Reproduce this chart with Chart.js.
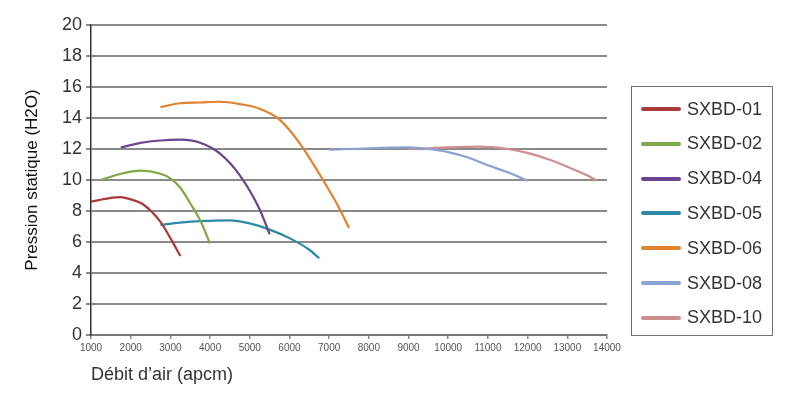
<!DOCTYPE html>
<html>
<head>
<meta charset="utf-8">
<script src="https://cdn.jsdelivr.net/npm/chart.js@4.4.1/dist/chart.umd.min.js"></script>
<style>
  body { margin: 0; background: #fff; }
  #wrap { position: relative; width: 800px; height: 400px; }
  #legende {
    position: absolute; left: 631px; top: 86px; width: 142px; height: 250px;
    border: 1.5px solid #707070; box-sizing: border-box;
    font-family: "Liberation Sans", Arial, sans-serif; font-size: 18px; color: #333;
  }
  .item { position: absolute; left: 9px; height: 20px; display: flex; align-items: center; }
  .trait { width: 40px; height: 4px; border-radius: 2px; margin-right: 6px; }
</style>
</head>
<body>
<div id="wrap">
  <canvas id="courbes" width="800" height="400"></canvas>
  <div id="legende"></div>
</div>
<script>
// modeles de ventilateurs
let modeles = ['SXBD-01', 'SXBD-02', 'SXBD-04', 'SXBD-05', 'SXBD-06', 'SXBD-08', 'SXBD-10'];

// debit d'air (apcm) et pression statique (H2O)
let debit01 = [1000, 1500, 1750, 2000, 2300, 2750, 3000, 3250];
let pression01 = [8.6, 8.85, 8.9, 8.75, 8.45, 7.3, 6.25, 5.1];

let debit02 = [1250, 1750, 2250, 2750, 3000, 3250, 3500, 3750, 4000];
let pression02 = [10.0, 10.4, 10.6, 10.4, 10.1, 9.5, 8.5, 7.4, 5.9];

let debit04 = [1750, 2250, 2750, 3250, 3750, 4250, 4750, 5250, 5500];
let pression04 = [12.1, 12.4, 12.55, 12.6, 12.4, 11.7, 10.3, 8.1, 6.5];

let debit05 = [2750, 3250, 3750, 4500, 5000, 5500, 6000, 6500, 6750];
let pression05 = [7.1, 7.25, 7.35, 7.4, 7.2, 6.8, 6.25, 5.5, 4.95];

let debit06 = [2750, 3250, 3750, 4250, 4750, 5250, 5750, 6250, 6750, 7250, 7500];
let pression06 = [14.7, 14.95, 15.0, 15.05, 14.9, 14.6, 13.9, 12.4, 10.4, 8.2, 6.9];

let debit08 = [7000, 8000, 9000, 9500, 10000, 10500, 11000, 11500, 12000];
let pression08 = [11.95, 12.05, 12.1, 12.0, 11.8, 11.45, 10.95, 10.5, 9.95];

let debit10 = [9000, 9500, 10000, 10750, 11500, 12000, 12500, 13000, 13500, 13750];
let pression10 = [12.0, 12.05, 12.1, 12.15, 12.0, 11.75, 11.35, 10.85, 10.3, 9.95];

let debits = [debit01, debit02, debit04, debit05, debit06, debit08, debit10];
let pressions = [pression01, pression02, pression04, pression05, pression06, pression08, pression10];

let couleurs = ['#a83a3a', '#80a846', '#6a4490', '#2e8aa4', '#e0822e', '#8aa2d2', '#cf8e8e'];

let police = '"Liberation Sans", Arial, sans-serif';

function points(xs, ys) {
    let res = [];
    for (let i = 0; i < xs.length; i++) {
        res.push({ x: xs[i], y: ys[i] });
    }
    return res;
}

let jeux = [];
for (let i = 0; i < modeles.length; i++) {
    jeux.push({
        label: modeles[i],
        data: points(debits[i], pressions[i]),
        borderColor: couleurs[i],
        backgroundColor: couleurs[i],
        borderWidth: 2.2,
        pointRadius: 0,
        cubicInterpolationMode: 'monotone',
        fill: false
    });
}

let graphique = new Chart(document.getElementById('courbes'), {
    type: 'line',
    data: { datasets: jeux },
    options: {
        responsive: false,
        animation: false,
        layout: { padding: { left: 0, right: 193, top: 25, bottom: 0 } },
        plugins: { legend: { display: false }, tooltip: { enabled: false } },
        scales: {
            x: {
                type: 'linear',
                min: 1000,
                max: 14000,
                afterFit: function (s) { s.height = 65; },
                ticks: {
                    stepSize: 1000,
                    maxRotation: 0,
                    autoSkip: false,
                    padding: 3,
                    color: '#555',
                    font: { family: police, size: 10 },
                    callback: function (v) { return String(v); }
                },
                grid: { drawOnChartArea: false, drawTicks: true, tickLength: 4, color: '#888', lineWidth: 1.5 },
                border: { color: '#777', width: 2 },
                title: {
                    display: true,
                    text: 'Débit d’air (apcm)',
                    align: 'start',
                    color: '#333',
                    font: { family: police, size: 18 },
                    padding: { top: 0, bottom: 14 }
                }
            },
            y: {
                min: 0,
                max: 20,
                afterFit: function (s) { s.width = 91; },
                ticks: {
                    stepSize: 2,
                    padding: 4,
                    color: '#333',
                    font: { family: police, size: 18 }
                },
                grid: { color: '#8a8a8a', lineWidth: 2, tickLength: 5 },
                border: { color: '#333', width: 1.5 },
                title: {
                    display: true,
                    text: 'Pression statique (H2O)',
                    color: '#111',
                    font: { family: police, size: 17 },
                    padding: { top: 22, bottom: 0 }
                }
            }
        }
    }
});

// legende encadree a droite
let legende = document.getElementById('legende');
for (let i = 0; i < graphique.data.datasets.length; i++) {
    let ds = graphique.data.datasets[i];
    let item = document.createElement('div');
    item.className = 'item';
    item.style.top = (12 + i * 34.8) + 'px';
    let trait = document.createElement('div');
    trait.className = 'trait';
    trait.style.background = ds.borderColor;
    let texte = document.createElement('span');
    texte.textContent = ds.label;
    item.appendChild(trait);
    item.appendChild(texte);
    legende.appendChild(item);
}
</script>
</body>
</html>
